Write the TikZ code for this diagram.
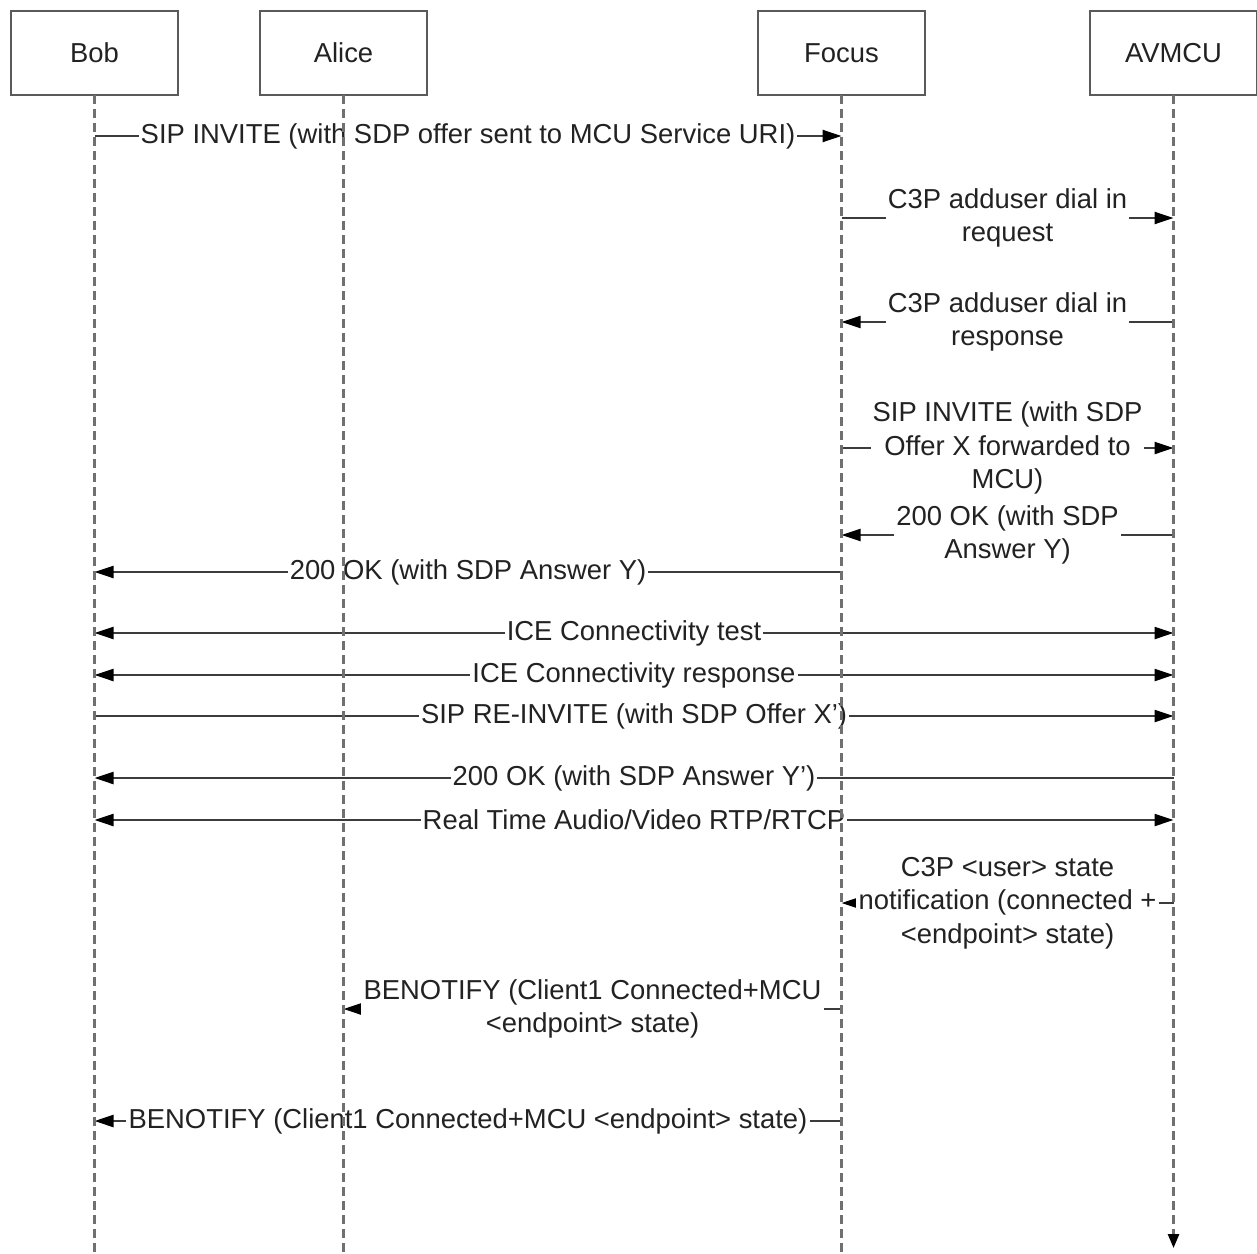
\documentclass[tikz,border=0pt]{standalone}
\usepackage{fontspec}
\setmainfont{Liberation Sans}
\usetikzlibrary{arrows.meta,positioning}
\definecolor{lifegray}{HTML}{707070}
\definecolor{msggray}{HTML}{3C3C3C}
\definecolor{boxgray}{HTML}{5A5A5A}
\definecolor{inkgray}{HTML}{222222}

\begin{document}
\begin{tikzpicture}[
  actor/.style={draw=boxgray, line width=0.6pt, fill=white, minimum width=1.67cm,
                minimum height=0.84cm, inner sep=0pt, outer sep=0pt, text=inkgray,
                font=\fontsize{7.8}{9.5}\selectfont},
  lifeline/.style={draw=lifegray, line width=0.75pt, dash pattern=on 0.09cm off 0.05cm},
  msg/.style={draw=msggray, line width=0.65pt, -{Triangle[length=0.19cm, width=0.12cm, black]}},
  msgboth/.style={msg, {Triangle[length=0.19cm, width=0.12cm, black]}-{Triangle[length=0.19cm, width=0.12cm, black]}},
  lbl/.style={fill=white, align=center, inner xsep=0.6pt, inner ysep=0.3pt, text=inkgray,
              font=\fontsize{7.8}{9.5}\selectfont},
  node distance=0.82cm
]
  \useasboundingbox (0,0) rectangle (12.57,-12.53);

  % Participants
  \node[actor] (bob) at (0.945,-0.53) {Bob};
  \node[actor, right=0.82cm of bob] (alice) {Alice};
  \node[actor, right=3.31cm of alice] (focus) {Focus};
  \node[actor, right=1.65cm of focus] (avmcu) {AVMCU};

  % Message rows
  \coordinate (m1) at (0,-1.36);
  \coordinate (m2) at (0,-2.18);
  \coordinate (m3) at (0,-3.22);
  \coordinate (m4) at (0,-4.48);
  \coordinate (m5) at (0,-5.35);
  \coordinate (m6) at (0,-5.72);
  \coordinate (m7) at (0,-6.33);
  \coordinate (m8) at (0,-6.75);
  \coordinate (m9) at (0,-7.16);
  \coordinate (m10) at (0,-7.78);
  \coordinate (m11) at (0,-8.20);
  \coordinate (m12) at (0,-9.03);
  \coordinate (m13) at (0,-10.09);
  \coordinate (m14) at (0,-11.21);
  \coordinate (bottom) at (0,-12.53);
  \coordinate (tipend) at (0,-12.48);

  % Messages
  \draw[msg] (bob |- m1) -- node[lbl] {SIP INVITE (with SDP offer sent to MCU Service URI)} (focus |- m1);
  \draw[msg] (focus |- m2) -- node[lbl] {C3P adduser dial in\\request} (avmcu |- m2);
  \draw[msg] (avmcu |- m3) -- node[lbl] {C3P adduser dial in\\response} (focus |- m3);
  \draw[msg] (focus |- m4) -- node[lbl] {SIP INVITE (with SDP\\Offer X forwarded to\\MCU)} (avmcu |- m4);
  \draw[msg] (avmcu |- m5) -- node[lbl] {200 OK (with SDP\\Answer Y)} (focus |- m5);
  \draw[msg] (focus |- m6) -- node[lbl] {200 OK (with SDP Answer Y)} (bob |- m6);
  \draw[msgboth] (bob |- m7) -- node[lbl] {ICE Connectivity test} (avmcu |- m7);
  \draw[msgboth] (bob |- m8) -- node[lbl] {ICE Connectivity response} (avmcu |- m8);
  \draw[msg] (bob |- m9) -- node[lbl] {SIP RE-INVITE (with SDP Offer X’)} (avmcu |- m9);
  \draw[msg] (avmcu |- m10) -- node[lbl] {200 OK (with SDP Answer Y’)} (bob |- m10);
  \draw[msgboth] (bob |- m11) -- node[lbl] {Real Time Audio/Video RTP/RTCP} (avmcu |- m11);
  \draw[msg] (avmcu |- m12) -- node[lbl] {C3P <user> state\\notification (connected +\\<endpoint> state)} (focus |- m12);
  \draw[msg] (focus |- m13) -- node[lbl] {BENOTIFY (Client1 Connected+MCU\\<endpoint> state)} (alice |- m13);
  \draw[msg] (focus |- m14) -- node[lbl] {BENOTIFY (Client1 Connected+MCU <endpoint> state)} (bob |- m14);

  % Lifelines
  \draw[lifeline] (bob.south) -- (bob |- bottom);
  \draw[lifeline] (alice.south) -- (alice |- bottom);
  \draw[lifeline] (focus.south) -- (focus |- bottom);
  \draw[lifeline, -{Triangle[length=0.14cm, width=0.11cm, black]}] (avmcu.south) -- (avmcu |- tipend);

\end{tikzpicture}
\end{document}
